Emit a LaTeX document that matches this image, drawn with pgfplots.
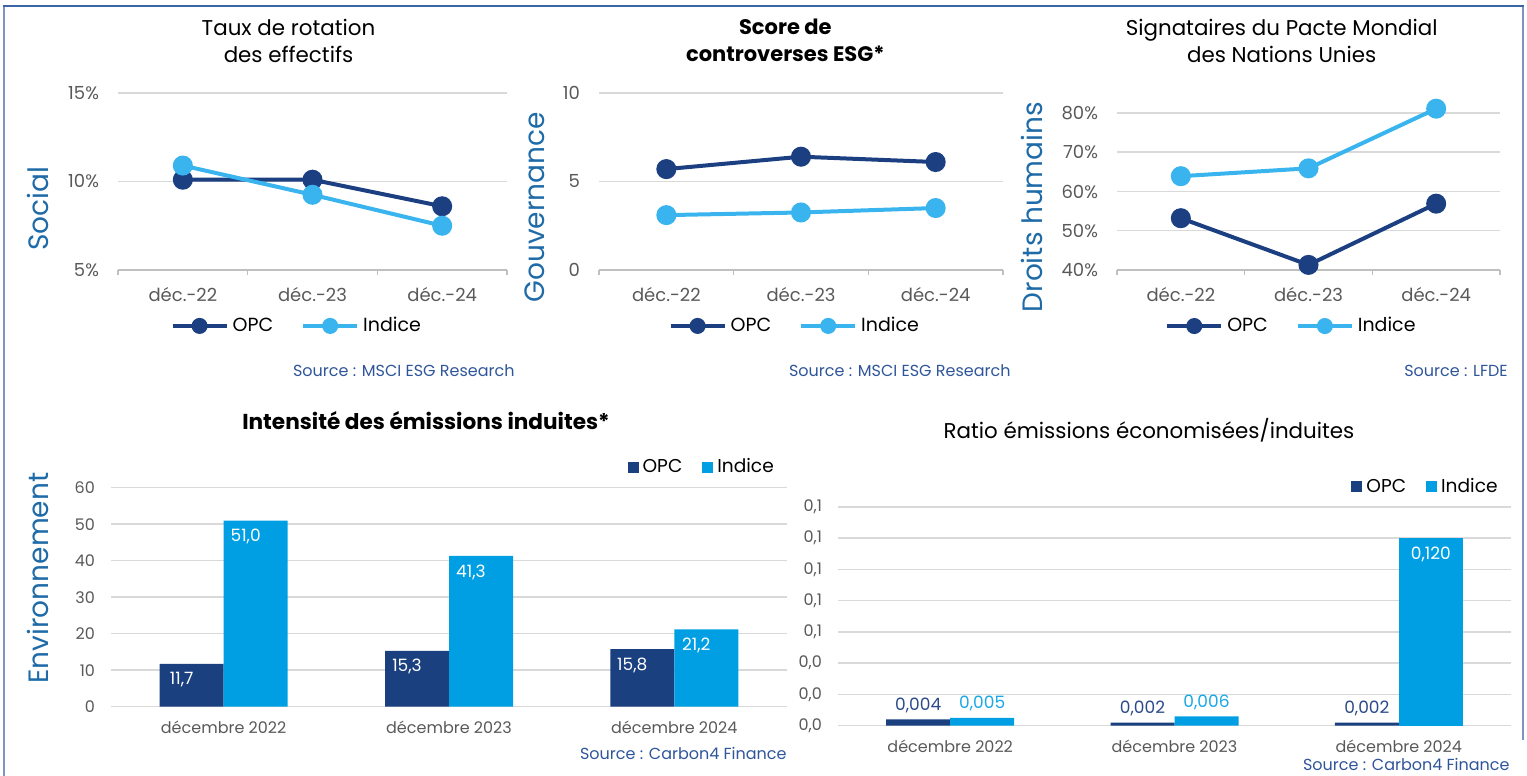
\documentclass[border=0pt]{standalone}
\usepackage{pgfplots}
\pgfplotsset{compat=1.18}
\usepackage{fontspec}
\setmainfont{Poppins}
\definecolor{opc}{HTML}{1B3F80}
\definecolor{ind}{HTML}{3AB4EE}
\definecolor{opcbar}{HTML}{1A4080}
\definecolor{indbar}{HTML}{009FE3}
\definecolor{opclbl}{HTML}{2B4A8A}
\definecolor{indlbl}{HTML}{1AA7E5}
\definecolor{gridc}{HTML}{D9D9D9}
\definecolor{axc}{HTML}{BFBFBF}
\definecolor{lblue}{HTML}{1F6BA8}
\definecolor{sblue}{HTML}{2F559A}
\definecolor{tickc}{HTML}{595959}
\definecolor{frameA}{HTML}{3C64A8}
\definecolor{frameB}{HTML}{7B96C4}

\pgfplotsset{
  common/.style={
    scale only axis, clip=false,
    xmin=-0.5, xmax=2.5, xtick={0,1,2},
    ymajorgrids, grid style={draw=gridc, line width=0.75pt},
    /pgf/number format/assume math mode=true,
    tick label style={text=tickc},
  },
  lineax/.style={
    common,
    xticklabels={déc.-22,déc.-23,déc.-24},
    minor xtick={-0.5,0.5,1.5,2.5},
    axis x line*=bottom, axis y line*=left,
    x axis line style={draw=axc, line width=0.75pt},
    y axis line style={draw=none},
    major tick length=0pt, minor tick length=2.5pt, tick align=outside,
    minor tick style={draw=axc, line width=0.75pt},
    xticklabel style={font=\fontsize{9}{10}\selectfont, yshift=-5pt},
    yticklabel style={font=\fontsize{9}{10}\selectfont, xshift=-6pt},
    legend style={draw=none, fill=none, legend columns=2, anchor=center,
      font=\fontsize{9.5}{11}\selectfont, inner sep=0pt,
      /tikz/every even column/.append style={column sep=12pt}},
    legend image code/.code={\draw[##1] (0pt,0pt) -- (27pt,0pt); \draw[##1, mark size=3pt] plot coordinates {(13.5pt,0pt)};},
  },
  opcl/.style={color=opc, line width=2pt, mark=*, mark size=4pt, mark options={solid, fill=opc}},
  indl/.style={color=ind, line width=2pt, mark=*, mark size=4pt, mark options={solid, fill=ind}},
  barax/.style={
    common,
    ybar=0pt, bar width=32pt,
    xticklabels={décembre 2022,décembre 2023,décembre 2024},
    axis line style={draw=none}, major tick length=0pt,
    xticklabel style={font=\fontsize{8}{9}\selectfont, yshift=-3.5pt},
    yticklabel style={font=\fontsize{8}{9}\selectfont, xshift=-4.5pt},
    legend style={draw=none, fill=none, legend columns=2, anchor=east,
      font=\fontsize{9.3}{10}\selectfont, inner sep=0pt,
      /tikz/every even column/.append style={column sep=8pt}},
    legend image code/.code={\fill[##1] (0pt,-2.75pt) rectangle (5.5pt,2.75pt);},
  },
}

\begin{document}
\begin{tikzpicture}[x=0.5pt,y=0.5pt]
\useasboundingbox (0,0) rectangle (1527,776);
% frame
\draw[frameB, line width=1pt] (4,770) -- (4,-2);
\draw[frameB, line width=1pt] (1523,770) -- (1523,36);
\draw[frameA, line width=1pt] (3,770) -- (1524,770);

% ---------- Panel 1 : Social
\begin{axis}[lineax, at={(59pt,253pt)}, anchor=south west, width=194.5pt, height=88.5pt,
  ymin=5, ymax=15, ytick={5,10,15}, yticklabel={\pgfmathprintnumber{\tick}\%},
  legend style={at={(0.462,-0.316)}}]
\addplot[opcl] coordinates {(0,10.1)(1,10.1)(2,8.6)};
\addplot[indl] coordinates {(0,10.9)(1,9.25)(2,7.5)};
\legend{OPC,Indice}
\end{axis}

% ---------- Panel 2 : Gouvernance
\begin{axis}[lineax, at={(299.5pt,253pt)}, anchor=south west, width=202pt, height=88.5pt,
  ymin=0, ymax=10, ytick={0,5,10},
  legend style={at={(0.487,-0.316)}}]
\addplot[opcl] coordinates {(0,5.7)(1,6.4)(2,6.1)};
\addplot[indl] coordinates {(0,3.1)(1,3.25)(2,3.5)};
\legend{OPC,Indice}
\end{axis}

% ---------- Panel 3 : Droits humains
\begin{axis}[lineax, at={(558.5pt,253pt)}, anchor=south west, width=191.5pt, height=78.5pt,
  ymin=40, ymax=80, ytick={40,50,60,70,80}, yticklabel={\pgfmathprintnumber{\tick}\%},
  legend style={at={(0.458,-0.357)}}]
\addplot[opcl] coordinates {(0,53.2)(1,41.3)(2,56.9)};
\addplot[indl] coordinates {(0,63.9)(1,65.9)(2,81.1)};
\legend{OPC,Indice}
\end{axis}

% ---------- Panel 4 : Environnement
\begin{axis}[barax, at={(55.5pt,34.65pt)}, anchor=south west, width=338pt, height=109.5pt,
  ymin=0, ymax=60, ytick={0,10,20,30,40,50,60},
  legend style={at={(0.987,1.0945)}}]
\addplot[fill=opcbar, draw=none, bar shift=-16pt,
  nodes near coords={\pgfmathprintnumber[fixed,fixed zerofill,precision=1,use comma]{\pgfplotspointmeta}},
  nodes near coords style={text=white, font=\fontsize{8.5}{9}\selectfont, anchor=center, yshift=-8pt, xshift=-5pt}]
  coordinates {(0,11.7)(1,15.3)(2,15.8)};
\addplot[fill=indbar, draw=none, bar shift=16pt,
  nodes near coords={\pgfmathprintnumber[fixed,fixed zerofill,precision=1,use comma]{\pgfplotspointmeta}},
  nodes near coords style={text=white, font=\fontsize{8.5}{9}\selectfont, anchor=center, yshift=-8pt, xshift=-5pt}]
  coordinates {(0,51.0)(1,41.3)(2,21.2)};
\legend{OPC,Indice}
\end{axis}

% ---------- Panel 5 : Ratio
\begin{axis}[barax, at={(419pt,25.15pt)}, anchor=south west, width=336.5pt, height=109.35pt,
  ymin=0, ymax=0.14, ytick={0,0.02,0.04,0.06,0.08,0.1,0.12,0.14}, scaled y ticks=false,
  yticklabel={\pgfmathprintnumber[fixed,fixed zerofill,precision=1,use comma]{\tick}},
  legend style={at={(0.9866,1.0915)}}]
\addplot[fill=opcbar, draw=none, bar shift=-16pt,
  nodes near coords={\pgfmathprintnumber[fixed,fixed zerofill,precision=3,use comma]{\pgfplotspointmeta}},
  nodes near coords style={text=opclbl, font=\fontsize{8.5}{9}\selectfont, anchor=center, yshift=7pt}]
  coordinates {(0,0.004)(1,0.002)(2,0.002)};
\addplot[fill=indbar, draw=none, bar shift=16pt,
  nodes near coords={\pgfmathprintnumber[fixed,fixed zerofill,precision=3,use comma]{\pgfplotspointmeta}},
  nodes near coords style={text=indlbl, font=\fontsize{8.5}{9}\selectfont, anchor=center, yshift=7pt}]
  coordinates {(0,0.005)(1,0.006)};
\addplot[fill=indbar, draw=none, bar shift=16pt, forget plot,
  nodes near coords={\pgfmathprintnumber[fixed,fixed zerofill,precision=3,use comma]{\pgfplotspointmeta}},
  nodes near coords style={text=white, font=\fontsize{8.5}{9}\selectfont, anchor=center, yshift=-8pt}]
  coordinates {(2,0.120)};
\legend{OPC,Indice}
\end{axis}

% ---------- titles
\node[align=center, font=\fontsize{10.7}{13.5}\selectfont] at (288.5,735.5) {Taux de rotation\\des effectifs};
\node[align=center, font=\fontsize{10.5}{13.5}\selectfont\bfseries] at (785.3,735.5) {Score de\\controverses ESG*};
\node[align=center, font=\fontsize{10.7}{13.5}\selectfont] at (1281.7,735.5) {Signataires du Pacte Mondial\\des Nations Unies};
\node[font=\fontsize{10.8}{12}\selectfont\bfseries] at (426,355) {Intensité des émissions induites*};
\node[font=\fontsize{10.7}{12}\selectfont] at (1149,345.3) {Ratio émissions économisées/induites};

% ---------- pillar labels
\node[rotate=90, text=lblue, font=\fontsize{14}{15}\selectfont] at (38,567.5) {Social};
\node[rotate=90, text=lblue, font=\fontsize{14}{15}\selectfont] at (535,568.5) {Gouvernance};
\node[rotate=90, text=lblue, font=\fontsize{14}{15}\selectfont] at (1031.7,569) {Droits humains};
\node[rotate=90, text=lblue, font=\fontsize{14}{15}\selectfont] at (38,198) {Environnement};

% ---------- sources
\node[anchor=east, inner sep=0pt, text=sblue, font=\fontsize{8}{9}\selectfont] at (515,405) {Source : MSCI ESG Research};
\node[anchor=east, inner sep=0pt, text=sblue, font=\fontsize{8}{9}\selectfont] at (1011,405) {Source : MSCI ESG Research};
\node[anchor=east, inner sep=0pt, text=sblue, font=\fontsize{8}{9}\selectfont] at (1508,405) {Source : LFDE};
\node[anchor=east, inner sep=0pt, text=sblue, font=\fontsize{8}{9}\selectfont] at (787,22.7) {Source : Carbon4 Finance};
\node[anchor=south east, inner sep=0pt, text=sblue, font=\fontsize{8}{9}\selectfont] at (1510,5) {Source : Carbon4 Finance};
\end{tikzpicture}
\end{document}
